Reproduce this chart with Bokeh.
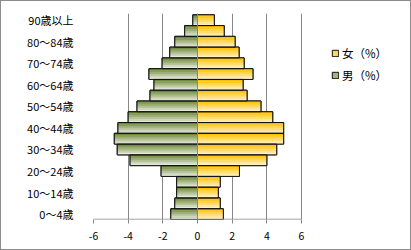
from bokeh.plotting import figure
from bokeh.models import ColumnDataSource, FixedTicker, Span, Legend, LegendItem
from bokeh.embed import file_html
from bokeh.resources import INLINE

categories = ["0〜4歳", "5〜9歳", "10〜14歳", "15〜19歳", "20〜24歳", "25〜29歳",
              "30〜34歳", "35〜39歳", "40〜44歳", "45〜49歳", "50〜54歳", "55〜59歳",
              "60〜64歳", "65〜69歳", "70〜74歳", "75〜79歳", "80〜84歳", "85〜89歳",
              "90歳以上"]
female = [1.49, 1.31, 1.20, 1.31, 2.42, 4.00, 4.57, 4.97, 4.97, 4.34, 3.66, 2.86,
          2.63, 3.20, 2.69, 2.40, 2.17, 1.54, 0.97]
male = [1.54, 1.31, 1.20, 1.20, 2.10, 3.89, 4.63, 4.80, 4.59, 4.00, 3.49, 2.74,
        2.51, 2.80, 2.04, 1.60, 1.31, 0.74, 0.27]
x_ticks = [-6, -4, -2, 0, 2, 4, 6]
series_names = ["女（%）", "男（%）"]

FONT = "Noto Sans CJK JP"
N = 6
PX_PER_UNIT = 208 / 12.0
FRAME_RIGHT_PX = 100  # extra frame space beyond x=6 for the legend
x_end = x_ticks[-1] + FRAME_RIGHT_PX / PX_PER_UNIT
y_start = -0.5

def lerp(c1, c2, t):
    return "#%02x%02x%02x" % tuple(int(round(a + (b - a) * t)) for a, b in zip(c1, c2))

y_idx = list(range(len(categories)))

p = figure(width=411, height=250, output_backend="svg", toolbar_location=None,
           x_range=(x_ticks[0], x_end), y_range=(y_start, 18.62),
           min_border_left=92, min_border_right=11, min_border_top=12,
           min_border_bottom=32)
p.styles = {"border": "1.5px solid #8c8c8c", "box-sizing": "border-box"}
p.outline_line_color = None
p.background_fill_color = "white"
p.border_fill_color = "white"

def gradient_bars(values, sign, top_rgb, bot_rgb):
    rights = [sign * v for v in values]
    base = p.hbar(y=y_idx, left=0, right=rights, height=1.0,
                  fill_color=lerp(top_rgb, bot_rgb, 0.45), line_color="#111111",
                  line_width=1)
    ys, rr, cols = [], [], []
    for k in range(N):
        c = lerp(top_rgb, bot_rgb, k / (N - 1))
        for i, v in zip(y_idx, rights):
            ys.append(i + 0.5 - (k + 0.5) / N)
            rr.append(v)
            cols.append(c)
    src = ColumnDataSource(dict(y=ys, right=rr, color=cols))
    p.hbar(y="y", left=0, right="right", height=1.0 / N + 0.01, source=src,
           fill_color="color", line_color=None)
    p.hbar(y=y_idx, left=0, right=rights, height=1.0,
           fill_alpha=0, line_color="#111111", line_width=1)
    return base

r_m = gradient_bars(male, -1, (112, 138, 56), (228, 233, 220))
r_f = gradient_bars(female, 1, (255, 192, 0), (255, 241, 196))

p.add_layout(Span(location=0, dimension="height", line_color="#868686", line_width=1))

# bottom axis line only across the tick span
p.segment(x0=[x_ticks[0]], x1=[x_ticks[-1]], y0=[y_start], y1=[y_start],
          line_color="#868686", line_width=1.5)

legend = Legend(items=[LegendItem(label=series_names[0], renderers=[r_f]),
                       LegendItem(label=series_names[1], renderers=[r_m])],
                location=(238, 134), margin=0, padding=0, spacing=2,
                label_height=20, glyph_width=8, glyph_height=8, label_standoff=3,
                label_text_font=FONT, label_text_font_size="11.5px",
                label_text_color="#000000", border_line_color=None,
                background_fill_alpha=0)
p.add_layout(legend)

# x axis
p.xaxis.ticker = FixedTicker(ticks=x_ticks)
p.xaxis.major_label_overrides = {t: str(t) for t in x_ticks}
p.xaxis.axis_line_color = None
p.xaxis.major_tick_line_color = "#868686"
p.xaxis.major_tick_out = 4
p.xaxis.major_tick_in = 0
p.xaxis.minor_tick_line_color = None
p.xaxis.major_label_standoff = 8
p.xaxis.major_label_text_font = FONT
p.xaxis.major_label_text_font_size = "10.5px"
p.xaxis.major_label_text_color = "#000000"

# y axis
p.yaxis.ticker = FixedTicker(ticks=list(range(0, len(categories), 2)))
p.yaxis.major_label_overrides = {i: categories[i] for i in range(0, len(categories), 2)}
p.yaxis.axis_line_color = None
p.yaxis.major_tick_line_color = None
p.yaxis.minor_tick_line_color = None
p.yaxis.major_label_standoff = 14
p.yaxis.major_label_text_font = FONT
p.yaxis.major_label_text_font_size = "11px"
p.yaxis.major_label_text_color = "#000000"

p.xgrid.ticker = FixedTicker(ticks=x_ticks)
p.xgrid.grid_line_color = "#868686"
p.ygrid.grid_line_color = None

open("out.html", "w").write(file_html(p, INLINE))
